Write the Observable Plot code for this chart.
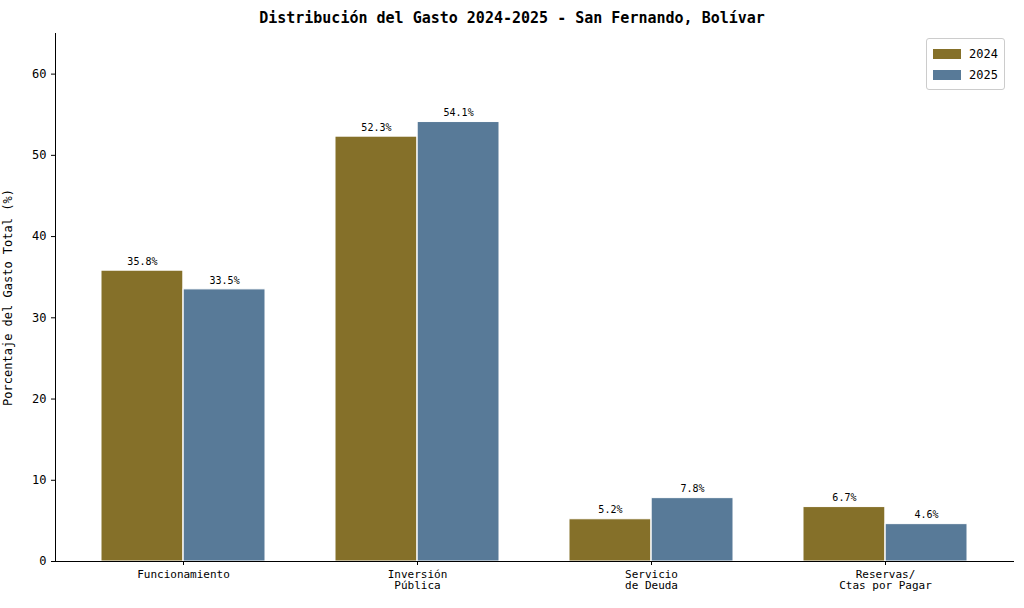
<!DOCTYPE html>
<html><head><meta charset="utf-8">
<script src="https://cdn.jsdelivr.net/npm/d3@7"></script>
<script src="https://cdn.jsdelivr.net/npm/@observablehq/plot@0.6"></script>
<style>
body{margin:0;background:#fff;font-family:"DejaVu Sans Mono",monospace;}
#wrap{position:relative;width:1024px;height:608px;}
#title{height:30px;line-height:36px;text-align:center;font-weight:bold;font-size:15px;}
#legend{position:absolute;left:926px;top:38px;border:1px solid #ccc;border-radius:3px;padding:4px 6px;font-size:12px;background:#fff;}
.li{display:flex;align-items:center;gap:8px;height:21px;}
.sw{width:28px;height:10px;display:inline-block;}
</style></head><body>
<div id="wrap"><div id="title">Distribución del Gasto 2024-2025 - San Fernando, Bolívar</div><div id="chart"></div>
<div id="legend"><div class="li"><span class="sw" style="background:#857029"></span>2024</div><div class="li"><span class="sw" style="background:#587a98"></span>2025</div></div></div>
<script>
const categories=["Funcionamiento","Inversión\nPública","Servicio\nde Deuda","Reservas/\nCtas por Pagar"];
const years=["2024","2025"];
const v2024=[35.8,52.3,5.2,6.7];
const v2025=[33.5,54.1,7.8,4.6];
const colors=["#857029","#587a98"];
const d24=categories.map((c,i)=>({cat:c,year:"2024",v:v2024[i]}));
const d25=categories.map((c,i)=>({cat:c,year:"2025",v:v2025[i]}));
const W=1024,ML=55,MR=11,pI=0.3,pO=0.19;
const step=(W-ML-MR)/(categories.length-pI+2*pO), bw=step*(1-pI), h=bw/2;
const chart=Plot.plot({
  width:W,height:578,marginTop:3,marginBottom:47,marginLeft:ML,marginRight:MR,
  style:{fontFamily:"DejaVu Sans Mono, monospace",fontSize:"11px"},
  x:{domain:categories,paddingInner:pI,paddingOuter:pO,label:null},
  y:{domain:[0,65],label:null},
  marks:[
    Plot.barY(d24,{x:"cat",y:"v",fill:colors[0],stroke:"white",strokeWidth:1,insetRight:h}),
    Plot.barY(d25,{x:"cat",y:"v",fill:colors[1],stroke:"white",strokeWidth:1,insetLeft:h}),
    Plot.text(d24,{x:"cat",y:"v",text:d=>d.v.toFixed(1)+"%",dy:-9,dx:-h/2,fontSize:10}),
    Plot.text(d25,{x:"cat",y:"v",text:d=>d.v.toFixed(1)+"%",dy:-9,dx:h/2,fontSize:10}),
    Plot.axisX({tickSize:4,label:null}),
    Plot.axisY({ticks:d3.range(0,61,10),tickSize:4,label:"Porcentaje del Gasto Total (%)",labelAnchor:"center",labelArrow:"none",fontSize:12}),
    Plot.frame({anchor:"left"}),Plot.frame({anchor:"bottom"})
  ]
});
document.getElementById("chart").append(chart);
</script></body></html>
